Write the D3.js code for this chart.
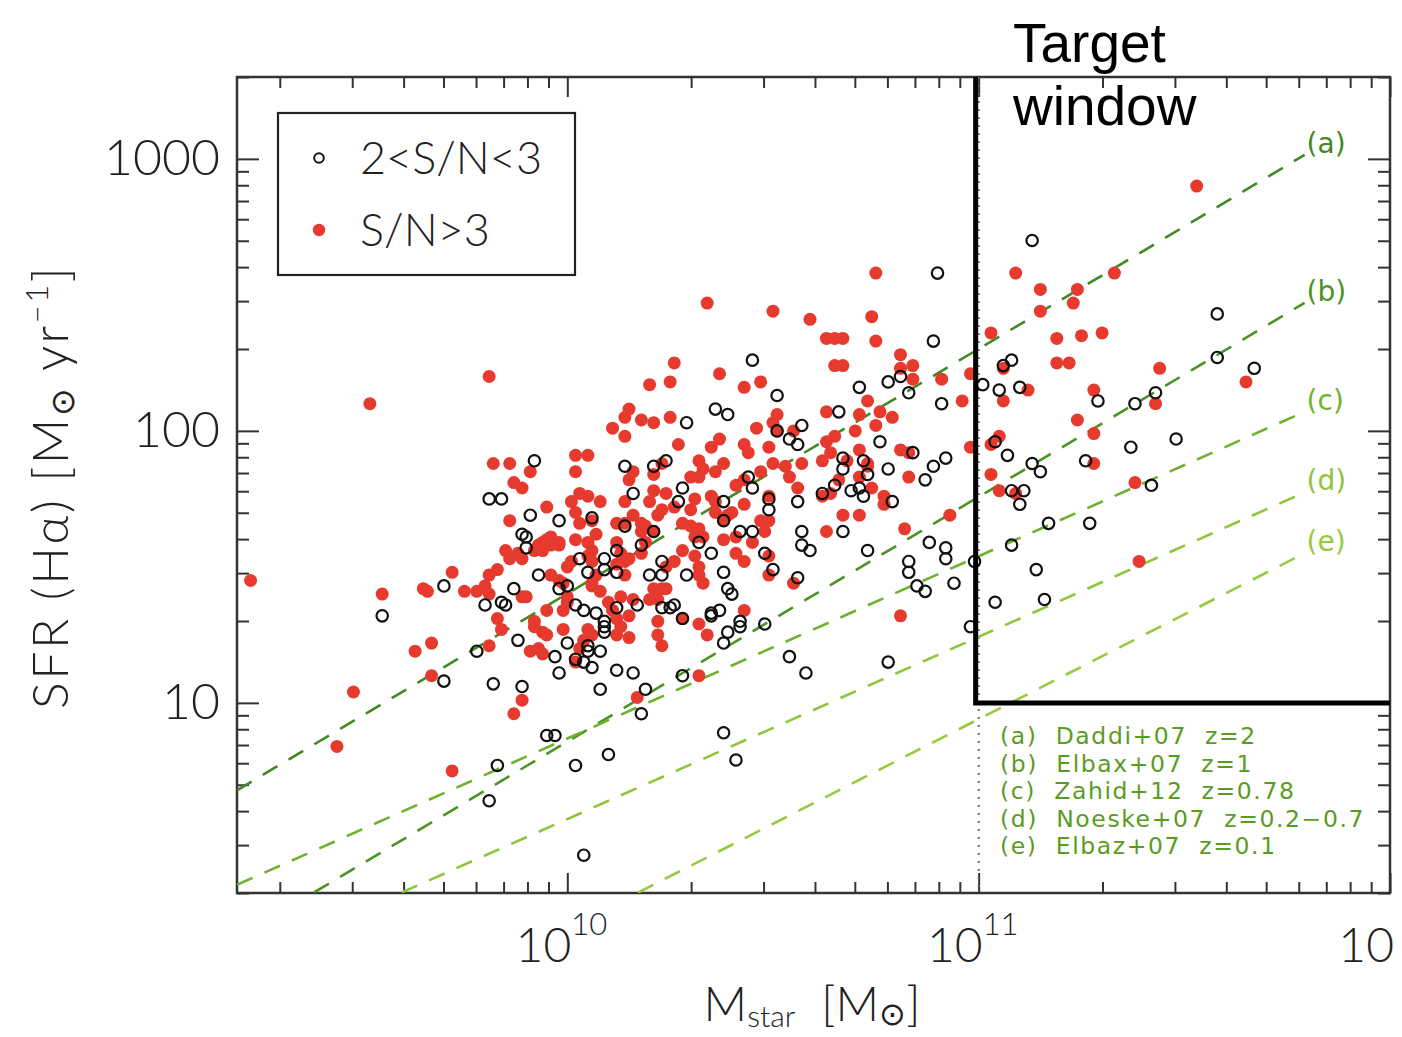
<!DOCTYPE html>
<html>
<head>
<meta charset="utf-8">
<script src="https://cdn.jsdelivr.net/npm/d3@7"></script>
<style>
  body { margin: 0; background: #fff; }
  text { font-family: "Lato", "DejaVu Sans", sans-serif; }
</style>
</head>
<body>
<svg id="chart"></svg>
<script>
// 2 < S/N < 3 sample (open circles): log10 stellar mass and log10 SFR
const lowSnLogMass = [
  11.13, 11.58, 11.58, 11.08, 11.06, 11.67, 11.01, 11.05, 11.10, 11.29,
  11.38, 11.43, 11.37, 11.48, 11.04, 11.07, 11.13, 11.15, 11.26, 11.08,
  11.11, 11.10, 11.42, 11.17, 11.27, 11.08, 11.14, 11.16, 11.04, 10.99,
  10.56, 10.62, 10.72, 10.79, 10.57, 10.67, 10.57, 10.59, 10.73, 10.88,
  10.92, 10.92, 10.83, 10.83, 10.85, 10.87, 10.94, 10.98, 10.54, 10.58,
  10.78, 10.38, 10.48, 10.42, 10.42, 10.39, 10.38, 10.39, 10.40, 10.38,
  10.48, 10.50, 10.56, 10.49, 10.45, 10.42, 10.38, 10.49, 10.38, 10.90,
  10.89, 10.45, 10.81, 10.78, 10.71, 10.83, 10.91, 10.51, 10.39, 10.66,
  10.51, 10.54, 10.57, 10.56, 10.76, 10.84, 10.92, 10.89, 10.87, 10.67,
  10.67, 10.72, 10.73, 10.78, 10.44, 10.45, 10.65, 10.69, 10.71, 10.29,
  10.36, 9.92, 10.14, 10.21, 10.24, 10.16, 10.28, 9.81, 9.84, 9.91,
  9.98, 9.89, 9.90, 9.90, 10.06, 10.14, 10.21, 10.27, 10.12, 10.18,
  10.09, 10.09, 10.03, 10.05, 9.93, 10.23, 10.23, 10.20, 10.29, 10.35,
  10.32, 9.87, 9.98, 10.00, 10.12, 9.80, 9.84, 9.85, 10.02, 10.04,
  10.07, 10.09, 10.09, 10.09, 10.12, 10.17, 10.23, 10.25, 10.26, 10.28,
  10.35, 10.37, 10.35, 9.88, 10.00, 10.05, 10.05, 10.08, 9.97, 9.98,
  10.02, 10.04, 10.06, 10.12, 10.16, 9.82, 9.89, 10.08, 10.19, 10.28,
  10.18, 9.95, 9.97, 9.55, 9.70, 9.78, 9.70, 9.83, 9.81, 10.02,
  10.10, 10.04, 10.41
];
const lowSnLogSfr = [
  2.70, 2.43, 2.27, 2.26, 2.24, 2.23, 2.17, 2.15, 2.16, 2.11,
  2.10, 2.14, 1.94, 1.97, 1.96, 1.91, 1.88, 1.85, 1.89, 1.78,
  1.78, 1.73, 1.80, 1.66, 1.66, 1.58, 1.49, 1.38, 1.37, 1.52,
  1.74, 1.77, 1.76, 1.74, 1.63, 1.63, 1.58, 1.56, 1.56, 1.59,
  1.57, 1.53, 1.52, 1.48, 1.43, 1.41, 1.44, 1.28, 1.17, 1.11,
  1.15, 0.89, 1.29, 1.30, 1.28, 1.26, 1.22, 1.42, 1.40, 1.48,
  1.55, 1.49, 1.46, 1.71, 1.63, 1.63, 1.67, 1.75, 1.74, 2.58,
  2.33, 2.26, 2.20, 2.18, 2.16, 2.14, 2.10, 2.13, 2.06, 2.07,
  2.00, 1.97, 2.02, 1.95, 1.96, 1.92, 1.90, 1.87, 1.82, 1.90,
  1.86, 1.89, 1.84, 1.86, 1.83, 1.79, 1.80, 1.78, 1.79, 2.03,
  2.08, 1.89, 1.87, 1.87, 1.89, 1.77, 1.79, 1.75, 1.75, 1.69,
  1.67, 1.62, 1.61, 1.57, 1.68, 1.65, 1.63, 1.74, 1.56, 1.58,
  1.53, 1.49, 1.53, 1.48, 1.47, 1.52, 1.47, 1.47, 1.47, 1.55,
  1.59, 1.42, 1.42, 1.43, 1.48, 1.36, 1.37, 1.36, 1.36, 1.34,
  1.33, 1.30, 1.28, 1.26, 1.35, 1.36, 1.35, 1.35, 1.36, 1.31,
  1.33, 1.34, 1.32, 1.23, 1.22, 1.21, 1.19, 1.19, 1.17, 1.11,
  1.16, 1.15, 1.13, 1.12, 1.11, 1.07, 1.06, 1.05, 1.05, 1.10,
  0.96, 0.88, 0.88, 1.32, 1.43, 1.19, 1.08, 0.77, 0.64, 0.77,
  0.81, 0.44, 0.79
];

// S/N > 3 sample (filled red dots)
const highSnLogMass = [
  11.53, 11.09, 11.15, 11.24, 11.23, 11.15, 11.33, 11.03, 11.19, 11.25,
  11.30, 11.06, 11.19, 11.22, 11.44, 11.65, 11.12, 11.06, 11.28, 11.43,
  11.24, 11.28, 11.05, 11.03, 11.28, 11.03, 11.05, 11.09, 11.38, 11.39,
  10.98, 10.98, 10.67, 10.71, 10.63, 10.82, 10.93, 10.81, 10.55, 10.49,
  10.49, 10.43, 10.41, 10.43, 10.45, 10.48, 10.49, 10.47, 10.38, 10.41,
  10.43, 10.49, 10.77, 10.77, 10.62, 10.64, 10.39, 10.40, 10.38, 10.75,
  10.50, 10.59, 10.74, 10.63, 10.65, 10.67, 10.75, 10.65, 10.67, 10.81,
  10.84, 10.81, 10.84, 10.91, 10.96, 10.43, 10.47, 10.37, 10.73, 10.51,
  10.63, 10.71, 10.76, 10.79, 10.75, 10.46, 10.50, 10.51, 10.55, 10.70,
  10.81, 10.83, 10.83, 10.49, 10.43, 10.44, 10.37, 10.38, 10.57, 10.63,
  10.65, 10.62, 10.64, 10.68, 10.73, 10.73, 10.71, 10.50, 10.53, 10.47,
  10.54, 10.56, 10.41, 10.43, 10.66, 10.71, 10.74, 10.34, 9.81, 10.26,
  10.20, 10.25, 10.15, 10.14, 10.11, 10.14, 10.18, 10.21, 10.25, 10.27,
  10.35, 9.82, 9.86, 9.91, 9.87, 9.89, 10.02, 10.05, 10.02, 10.16,
  10.15, 10.21, 10.23, 10.30, 10.32, 10.33, 10.36, 10.32, 9.52, 9.23,
  9.55, 9.65, 9.66, 9.72, 9.75, 9.78, 9.80, 9.81, 9.81, 9.63,
  9.67, 9.67, 9.48, 9.44, 9.72, 9.95, 10.01, 10.03, 10.05, 10.08,
  10.02, 10.06, 10.07, 10.03, 9.86, 10.14, 10.16, 10.20, 10.21, 10.24,
  10.23, 10.22, 10.26, 10.12, 10.14, 10.18, 10.19, 10.18, 10.21, 10.30,
  10.31, 10.28, 10.30, 10.32, 10.31, 10.33, 10.36, 10.36, 10.35, 10.28,
  10.31, 10.32, 10.32, 10.33, 9.95, 9.96, 9.98, 9.93, 9.94, 9.92,
  9.98, 9.96, 9.94, 9.85, 9.86, 9.89, 9.88, 10.02, 10.05, 10.06,
  10.05, 10.06, 10.01, 10.00, 10.12, 10.13, 10.14, 10.12, 10.15, 10.14,
  10.18, 10.19, 10.24, 10.26, 9.83, 9.96, 9.98, 9.99, 10.06, 10.07,
  10.06, 9.89, 9.90, 10.00, 10.00, 9.99, 10.08, 10.10, 10.13, 10.11,
  10.12, 10.15, 10.13, 10.16, 10.20, 10.22, 10.21, 10.23, 10.24, 10.22,
  10.28, 10.32, 10.34, 9.95, 9.92, 9.94, 9.92, 9.95, 9.83, 9.84,
  9.99, 10.05, 10.06, 10.04, 10.12, 10.15, 10.22, 10.23, 9.81, 9.91,
  9.94, 9.93, 10.03, 10.02, 10.32, 10.17, 9.89, 9.87
];
const highSnLogSfr = [
  2.90, 2.58, 2.52, 2.52, 2.47, 2.44, 2.58, 2.36, 2.34, 2.35,
  2.36, 2.23, 2.25, 2.25, 2.23, 2.18, 2.15, 2.11, 2.15, 2.10,
  2.04, 1.99, 1.98, 1.95, 1.88, 1.84, 1.78, 1.77, 1.81, 1.52,
  2.21, 1.94, 1.69, 1.69, 1.63, 1.64, 1.69, 1.32, 1.44, 1.47,
  1.54, 1.34, 1.55, 1.52, 1.59, 1.63, 1.67, 1.67, 1.60, 1.61,
  1.73, 1.76, 1.76, 1.73, 1.76, 1.77, 1.69, 1.70, 1.67, 2.58,
  2.44, 2.41, 2.42, 2.34, 2.34, 2.34, 2.33, 2.24, 2.24, 2.28,
  2.24, 2.23, 2.19, 2.19, 2.11, 2.16, 2.18, 2.21, 2.11, 2.06,
  2.07, 2.06, 2.07, 2.05, 2.02, 2.01, 2.03, 2.00, 2.00, 2.00,
  1.93, 1.92, 1.83, 1.94, 1.95, 1.92, 1.97, 1.88, 1.88, 1.96,
  1.98, 1.89, 1.92, 1.89, 1.88, 1.87, 1.93, 1.88, 1.87, 1.85,
  1.83, 1.79, 1.80, 1.82, 1.82, 1.83, 1.79, 2.47, 2.20, 2.25,
  2.17, 2.18, 2.08, 2.05, 2.01, 1.98, 2.04, 2.03, 2.05, 1.95,
  1.94, 1.88, 1.88, 1.85, 1.81, 1.79, 1.91, 1.91, 1.85, 1.85,
  1.82, 1.84, 1.88, 1.83, 1.89, 1.86, 1.85, 1.83, 2.10, 1.45,
  1.40, 1.42, 1.41, 1.48, 1.41, 1.41, 1.43, 1.47, 1.40, 1.19,
  1.22, 1.10, 1.04, 0.84, 0.75, 1.72, 1.74, 1.77, 1.76, 1.74,
  1.70, 1.67, 1.62, 1.66, 1.67, 1.74, 1.69, 1.74, 1.78, 1.77,
  1.71, 1.69, 1.72, 1.66, 1.66, 1.66, 1.65, 1.63, 1.63, 1.71,
  1.75, 1.66, 1.65, 1.64, 1.61, 1.61, 1.70, 1.74, 1.76, 1.56,
  1.54, 1.50, 1.47, 1.44, 1.60, 1.61, 1.58, 1.58, 1.56, 1.56,
  1.59, 1.58, 1.59, 1.56, 1.53, 1.53, 1.55, 1.60, 1.59, 1.56,
  1.54, 1.52, 1.52, 1.50, 1.59, 1.55, 1.52, 1.51, 1.53, 1.47,
  1.55, 1.59, 1.50, 1.52, 1.49, 1.47, 1.45, 1.44, 1.44, 1.47,
  1.43, 1.39, 1.39, 1.39, 1.37, 1.34, 1.41, 1.37, 1.39, 1.34,
  1.31, 1.32, 1.28, 1.38, 1.38, 1.38, 1.42, 1.42, 1.42, 1.30,
  1.31, 1.29, 1.25, 1.34, 1.30, 1.26, 1.28, 1.25, 1.31, 1.27,
  1.27, 1.27, 1.25, 1.23, 1.25, 1.24, 1.25, 1.21, 1.21, 1.19,
  1.18, 1.20, 1.20, 1.15, 1.10, 1.02, 1.01, 0.96
];

// main-sequence relations: SFR = norm * (M / 1e10)^slope
const relationTags = ["(a)", "(b)", "(c)", "(d)", "(e)"];
const relationRefs = ["Daddi+07  z=2", "Elbax+07  z=1", "Zahid+12  z=0.78", "Noeske+07  z=0.2\u22120.7", "Elbaz+07  z=0.1"];
const relationNorm = [25.2, 7.2, 7.4, 3.74, 1.48];
const relationSlope = [0.9, 0.9, 0.67, 0.67, 0.77];
const relationColors = ["#3f8a22", "#4b9424", "#6fb22d", "#8fc53a", "#97ca3d"];
const relationEndMass = 6.2e11;

const massTicks = [1e10, 1e11, 1e12];
const massExponents = ["10", "11", "12"];
const sfrTicks = [10, 100, 1000];
const targetMass = 1e11;
const targetSfr = 10;

const width = 1402, height = 1037;
const margin = {top: 77, right: 12, bottom: 144, left: 237};
const ink = "#222";

const svg = d3.select("#chart").attr("width", width).attr("height", height);

const x = d3.scaleLog()
    .domain([Math.pow(10, 9.197), 1e12])
    .range([margin.left, width - margin.right]);
const y = d3.scaleLog()
    .domain([2, 2000])
    .range([height - margin.bottom, margin.top]);

const isDecade = v => Math.abs(Math.log10(v) - Math.round(Math.log10(v))) < 1e-6;
const minorX = x.ticks().filter(v => !isDecade(v));
const minorY = y.ticks().filter(v => !isDecade(v));

svg.append("clipPath").attr("id", "plot-clip")
  .append("rect")
    .attr("x", margin.left).attr("y", margin.top)
    .attr("width", width - margin.right - margin.left)
    .attr("height", height - margin.bottom - margin.top);

// ticks on all four sides, pointing inward
function styleAxis(g) {
  g.select(".domain").remove();
  g.selectAll(".tick line").attr("stroke", "#333").attr("stroke-width", 2);
}
const bottomY = height - margin.bottom, rightX = width - margin.right;

svg.append("g").attr("transform", `translate(0,${bottomY})`)
  .call(d3.axisBottom(x).tickValues(massTicks).tickSize(-20).tickFormat(""))
  .call(styleAxis);
svg.append("g").attr("transform", `translate(0,${bottomY})`)
  .call(d3.axisBottom(x).tickValues(minorX).tickSize(-11).tickFormat(""))
  .call(styleAxis);
svg.append("g").attr("transform", `translate(0,${margin.top})`)
  .call(d3.axisTop(x).tickValues(massTicks).tickSize(-20).tickFormat(""))
  .call(styleAxis);
svg.append("g").attr("transform", `translate(0,${margin.top})`)
  .call(d3.axisTop(x).tickValues(minorX).tickSize(-11).tickFormat(""))
  .call(styleAxis);

svg.append("g").attr("transform", `translate(${margin.left},0)`)
  .call(d3.axisLeft(y).tickValues(sfrTicks).tickSize(-22).tickPadding(17).tickFormat(d3.format("d")))
  .call(styleAxis)
  .call(g => g.selectAll(".tick text")
      .attr("fill", ink).attr("font-size", 50).attr("font-weight", 300)
      .style("font-family", "Lato, 'DejaVu Sans', sans-serif"));
svg.append("g").attr("transform", `translate(${margin.left},0)`)
  .call(d3.axisLeft(y).tickValues(minorY).tickSize(-12).tickFormat(""))
  .call(styleAxis);
svg.append("g").attr("transform", `translate(${rightX},0)`)
  .call(d3.axisRight(y).tickValues(sfrTicks).tickSize(-22).tickFormat(""))
  .call(styleAxis);
svg.append("g").attr("transform", `translate(${rightX},0)`)
  .call(d3.axisRight(y).tickValues(minorY).tickSize(-12).tickFormat(""))
  .call(styleAxis);

// x tick labels 10^n (the last one runs into the page edge, as in the figure)
const xLab = svg.append("g").attr("fill", ink).attr("font-weight", 300);
massTicks.forEach((v, i) => {
  xLab.append("text").attr("x", x(v) + 4).attr("y", bottomY + 69)
    .attr("text-anchor", "end").attr("font-size", 48).text("10");
  const sup = xLab.append("text").attr("x", x(v) + 4).attr("y", bottomY + 42)
    .attr("font-size", 31).text(massExponents[i]);
  if (x(v) + 4 + sup.node().getComputedTextLength() > width) sup.remove();
});

// frame
svg.append("rect")
  .attr("x", margin.left).attr("y", margin.top)
  .attr("width", rightX - margin.left).attr("height", bottomY - margin.top)
  .attr("fill", "none").attr("stroke", "#333").attr("stroke-width", 2.5);

// dotted line at 1e11
svg.append("line")
  .attr("x1", x(targetMass)).attr("x2", x(targetMass))
  .attr("y1", margin.top).attr("y2", bottomY)
  .attr("stroke", "#666").attr("stroke-width", 2).attr("stroke-dasharray", "2,6");

// relations
const plot = svg.append("g").attr("clip-path", "url(#plot-clip)");
const line = d3.line().x(d => x(d.m)).y(d => y(d.sfr));
const relations = relationTags.map((tag, i) => {
  const f = m => relationNorm[i] * Math.pow(m / 1e10, relationSlope[i]);
  const m0 = x.domain()[0];
  return {tag, color: relationColors[i], pts: [{m: m0, sfr: f(m0)}, {m: relationEndMass, sfr: f(relationEndMass)}]};
});
plot.selectAll("path.rel").data(relations).join("path")
  .attr("class", "rel")
  .attr("d", d => line(d.pts))
  .attr("fill", "none")
  .attr("stroke", d => d.color)
  .attr("stroke-width", 2.6)
  .attr("stroke-dasharray", "17,13");

svg.selectAll("text.reltag").data(relations).join("text")
  .attr("class", "reltag")
  .attr("x", d => x(relationEndMass) + 2)
  .attr("y", d => y(d.pts[1].sfr) - 10)
  .attr("dominant-baseline", "middle")
  .attr("fill", d => d.color)
  .attr("font-size", 28)
  .style("font-family", "'DejaVu Sans', sans-serif")
  .text(d => d.tag);

// data points
const highPts = highSnLogMass.map((lm, i) => ({m: Math.pow(10, lm), sfr: Math.pow(10, highSnLogSfr[i])}));
const lowPts = lowSnLogMass.map((lm, i) => ({m: Math.pow(10, lm), sfr: Math.pow(10, lowSnLogSfr[i])}));

plot.append("g").selectAll("circle").data(highPts).join("circle")
  .attr("cx", d => x(d.m)).attr("cy", d => y(d.sfr))
  .attr("r", 6.5).attr("fill", "#e63a2e");
plot.append("g").selectAll("circle").data(lowPts).join("circle")
  .attr("cx", d => x(d.m)).attr("cy", d => y(d.sfr))
  .attr("r", 5.7).attr("fill", "none").attr("stroke", "#111").attr("stroke-width", 2.2);

// target window
svg.append("path")
  .attr("d", `M${x(targetMass) - 3},${margin.top}V${y(targetSfr)}H${rightX}`)
  .attr("fill", "none").attr("stroke", "#000").attr("stroke-width", 5);
const tw = svg.append("text").attr("x", 1013).attr("font-size", 55).attr("fill", "#000")
  .style("font-family", "'Liberation Sans', Arial, sans-serif");
tw.append("tspan").attr("x", 1013).attr("y", 62).text("Target");
tw.append("tspan").attr("x", 1013).attr("y", 125).text("window");

// relation legend (bottom right)
svg.append("g").selectAll("text").data(relationRefs).join("text")
  .attr("x", 1000)
  .attr("y", (d, i) => 744 + i * 27.5)
  .attr("fill", "#5a9c22")
  .attr("font-size", 23.5)
  .style("font-family", "'DejaVu Sans', sans-serif")
  .style("letter-spacing", "1.6px")
  .style("white-space", "pre")
  .text((d, i) => relationTags[i] + "  " + d);

// symbol legend (top left)
const leg = svg.append("g");
leg.append("rect").attr("x", 278).attr("y", 113).attr("width", 297).attr("height", 162)
  .attr("fill", "#fff").attr("stroke", ink).attr("stroke-width", 2.2);
leg.append("circle").attr("cx", 319).attr("cy", 158).attr("r", 4.8)
  .attr("fill", "none").attr("stroke", "#111").attr("stroke-width", 2);
leg.append("circle").attr("cx", 319).attr("cy", 230).attr("r", 6.2).attr("fill", "#e63a2e");
leg.append("text").attr("x", 360).attr("y", 174).attr("font-size", 45).attr("font-weight", 300)
  .attr("fill", ink).text("2<S/N<3");
leg.append("text").attr("x", 360).attr("y", 246).attr("font-size", 45).attr("font-weight", 300)
  .attr("fill", ink).text("S/N>3");

// axis titles built from separate runs (main size / sub- and superscripts)
function runs(g, pieces, spacing) {
  let cx = 0;
  const nodes = pieces.map(p => {
    const t = g.append("text").attr("x", cx).attr("y", p.dy)
      .attr("font-size", p.size).attr("font-weight", 300).attr("fill", ink)
      .style("white-space", "pre").style("letter-spacing", spacing + "px")
      .text(p.t);
    cx += t.node().getComputedTextLength();
    return t;
  });
  nodes.forEach(t => t.attr("x", +t.attr("x") - cx / 2));
}

runs(svg.append("g").attr("transform", "translate(812,1021)"), [
  {t: "M", size: 48, dy: 0},
  {t: "star", size: 30, dy: 6},
  {t: "  [M", size: 48, dy: 0},
  {t: "\u2299", size: 32, dy: 4},
  {t: "]", size: 48, dy: 0}
], 0);

runs(svg.append("g").attr("transform", "translate(68,487) rotate(-90)"), [
  {t: "SFR (H\u03b1) [M", size: 50, dy: 0},
  {t: "\u2299", size: 33, dy: 6},
  {t: " yr", size: 50, dy: 0},
  {t: "\u22121", size: 31, dy: -20},
  {t: "]", size: 50, dy: 0}
], 2.5);
</script>
</body>
</html>
